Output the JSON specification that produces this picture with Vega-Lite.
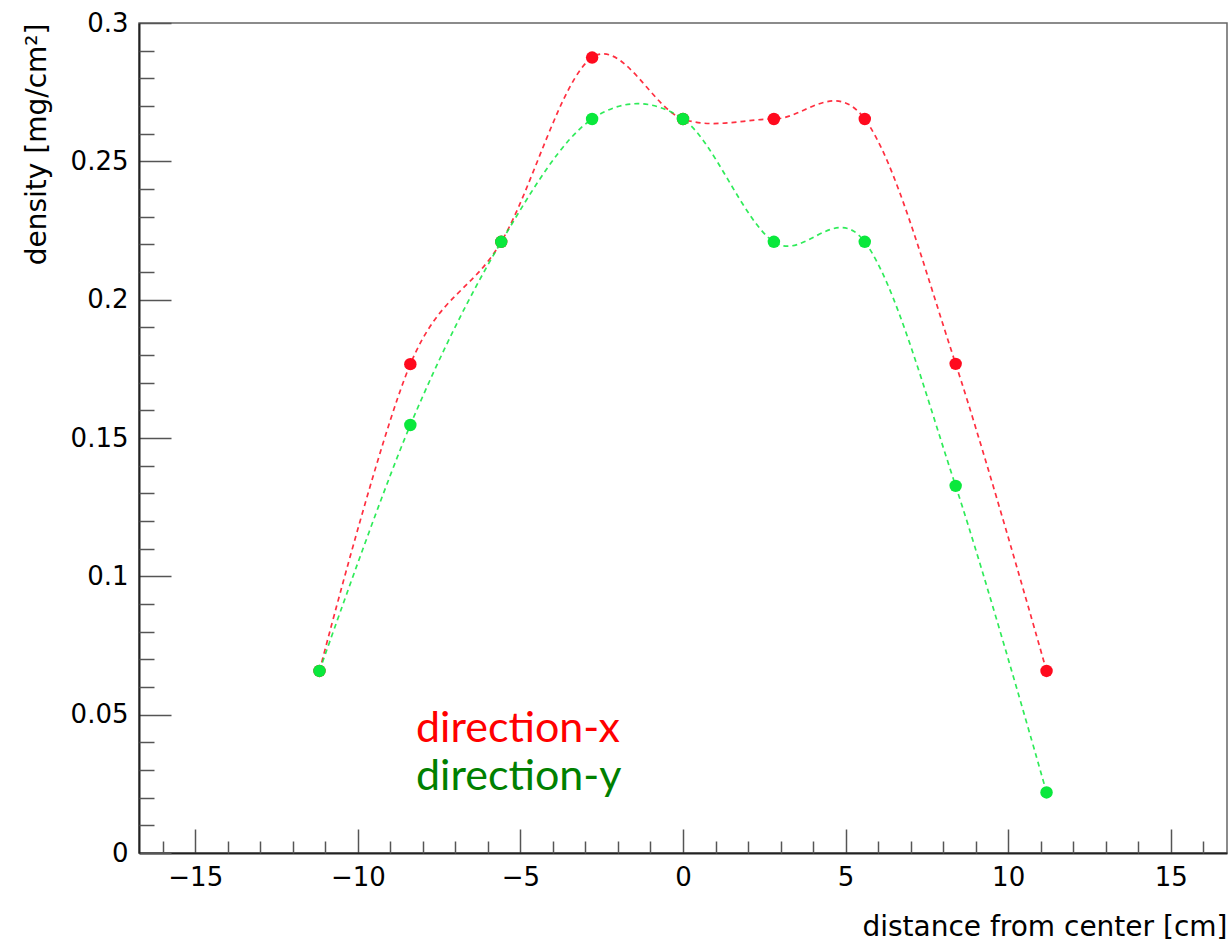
{
  "$schema": "https://vega.github.io/schema/vega-lite/v6.json",
  "autosize": {"type": "none"},
  "padding": {"left": 139, "top": 23, "right": 2, "bottom": 97},
  "width": 1088,
  "height": 830,
  "background": "white",
  "config": {
    "view": {"stroke": "#666", "strokeWidth": 1.5},
    "axis": {
      "domainColor": "#222",
      "domainWidth": 2,
      "tickColor": "#555",
      "tickWidth": 1.5,
      "labelColor": "#000",
      "labelFont": "DejaVu Sans",
      "labelFontSize": 26,
      "titleFont": "DejaVu Sans",
      "titleFontSize": 28,
      "titleFontWeight": "normal",
      "titleColor": "#000",
      "grid": false
    }
  },
  "datasets": {
    "profile": [
      {"dist": -11.18, "density": 0.0658, "direction": "direction-x"},
      {"dist": -8.385, "density": 0.1767, "direction": "direction-x"},
      {"dist": -5.59, "density": 0.2209, "direction": "direction-x"},
      {"dist": -2.795, "density": 0.2875, "direction": "direction-x"},
      {"dist": 0, "density": 0.2653, "direction": "direction-x"},
      {"dist": 2.795, "density": 0.2653, "direction": "direction-x"},
      {"dist": 5.59, "density": 0.2653, "direction": "direction-x"},
      {"dist": 8.385, "density": 0.1768, "direction": "direction-x"},
      {"dist": 11.18, "density": 0.0658, "direction": "direction-x"},
      {"dist": -11.18, "density": 0.0658, "direction": "direction-y"},
      {"dist": -8.385, "density": 0.1547, "direction": "direction-y"},
      {"dist": -5.59, "density": 0.2209, "direction": "direction-y"},
      {"dist": -2.795, "density": 0.2653, "direction": "direction-y"},
      {"dist": 0, "density": 0.2653, "direction": "direction-y"},
      {"dist": 2.795, "density": 0.2209, "direction": "direction-y"},
      {"dist": 5.59, "density": 0.2209, "direction": "direction-y"},
      {"dist": 8.385, "density": 0.1327, "direction": "direction-y"},
      {"dist": 11.18, "density": 0.0219, "direction": "direction-y"}
    ]
  },
  "layer": [
    {
      "data": {"name": "profile"},
      "encoding": {
        "x": {
          "field": "dist", "type": "quantitative",
          "scale": {"domain": [-16.73, 16.73], "nice": false, "zero": false},
          "axis": {
            "orient": "bottom",
            "values": [-15, -10, -5, 0, 5, 10, 15],
            "format": "~g",
            "tickSize": -24,
            "labelPadding": 35,
            "title": "distance from center [cm]",
            "titleAnchor": "end",
            "titlePadding": 23
          }
        },
        "y": {
          "field": "density", "type": "quantitative",
          "scale": {"domain": [0, 0.3], "nice": false, "zero": true},
          "axis": {
            "orient": "left",
            "values": [0, 0.05, 0.1, 0.15, 0.2, 0.25, 0.3],
            "format": "~g",
            "tickSize": -32,
            "labelPadding": 43,
            "title": "density [mg/cm²]",
            "titleAnchor": "end",
            "titlePadding": 19
          }
        },
        "color": {
          "field": "direction", "type": "nominal",
          "scale": {"domain": ["direction-x", "direction-y"], "range": ["#ff0a1e", "#0ae83c"]},
          "legend": null
        }
      },
      "layer": [
        {
          "mark": {"type": "line", "interpolate": "cardinal", "strokeDash": [5, 4], "strokeWidth": 1.7, "opacity": 0.85}
        },
        {
          "mark": {"type": "circle", "size": 155, "opacity": 1}
        }
      ]
    },
    {
      "data": {"values": [{}]},
      "mark": {"type": "text", "text": "direction-x", "font": "Lato", "fontSize": 43, "align": "left", "baseline": "alphabetic", "color": "#ff0000"},
      "encoding": {
        "x": {
          "datum": -8.21, "type": "quantitative",
          "axis": {
            "orient": "bottom",
            "values": [-16, -14, -13, -12, -11, -9, -8, -7, -6, -4, -3, -2, -1, 1, 2, 3, 4, 6, 7, 8, 9, 11, 12, 13, 14, 16],
            "labels": false, "domain": false, "title": null,
            "tickSize": -12
          }
        },
        "y": {
          "datum": 0.0401, "type": "quantitative",
          "axis": {
            "orient": "left",
            "values": [0.01, 0.02, 0.03, 0.04, 0.06, 0.07, 0.08, 0.09, 0.11, 0.12, 0.13, 0.14, 0.16, 0.17, 0.18, 0.19, 0.21, 0.22, 0.23, 0.24, 0.26, 0.27, 0.28, 0.29],
            "labels": false, "domain": false, "title": null,
            "tickSize": -15
          }
        }
      }
    },
    {
      "data": {"values": [{}]},
      "mark": {"type": "text", "text": "direction-y", "font": "Lato", "fontSize": 43, "align": "left", "baseline": "alphabetic", "color": "#008000"},
      "encoding": {
        "x": {"datum": -8.21, "type": "quantitative", "axis": null},
        "y": {"datum": 0.0227, "type": "quantitative", "axis": null}
      }
    }
  ],
  "resolve": {"axis": {"x": "independent", "y": "independent"}}
}
